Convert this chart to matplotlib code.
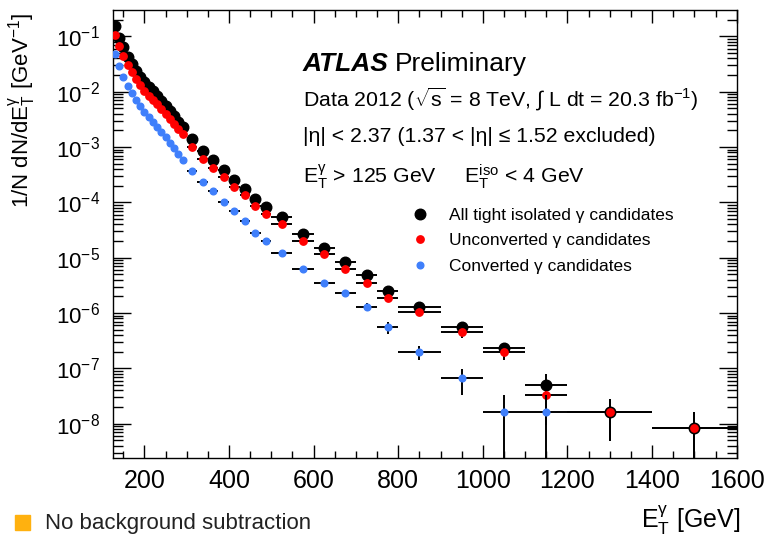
import numpy as np
import matplotlib
matplotlib.use("Agg")
import matplotlib.pyplot as plt
from matplotlib.lines import Line2D
from matplotlib.patches import Rectangle
from matplotlib.ticker import FixedLocator, LogFormatterMathtext, NullFormatter

plt.rcParams["font.family"] = ["Liberation Sans", "DejaVu Sans"]
plt.rcParams["mathtext.fontset"] = "custom"
plt.rcParams["mathtext.rm"] = "Liberation Sans"
plt.rcParams["mathtext.it"] = "Liberation Sans:italic"
plt.rcParams["mathtext.bf"] = "Liberation Sans:bold"

# --- data ---
et_centre = [130, 140, 150, 160, 170, 180, 190, 200, 210, 220, 230, 240, 250, 260, 270, 280, 290,
             312.5, 337.5, 362.5, 387.5, 412.5, 437.5, 462.5, 487.5,
             525, 575, 625, 675, 725, 775,
             850, 950, 1050, 1150,
             1300, 1500]
et_half = [5] * 17 + [12.5] * 8 + [25] * 6 + [50] * 4 + [100] * 2

all_tight = [1.51e-1, 9.55e-2, 6.31e-2, 4.27e-2, 3.16e-2, 2.40e-2, 1.86e-2, 1.51e-2, 1.23e-2,
             1.02e-2, 8.32e-3, 6.76e-3, 5.50e-3, 4.47e-3, 3.63e-3, 2.88e-3, 2.34e-3,
             1.38e-3, 8.51e-4, 5.75e-4, 3.80e-4, 2.51e-4, 1.78e-4, 1.17e-4, 8.13e-5,
             5.37e-5, 2.63e-5, 1.51e-5, 8.51e-6, 4.90e-6, 2.51e-6,
             1.29e-6, 5.50e-7, 2.29e-7, 5.0e-8,
             1.66e-8, 8.3e-9]
unconverted = [1.07e-1, 6.76e-2, 4.47e-2, 3.02e-2, 2.24e-2, 1.70e-2, 1.32e-2, 1.05e-2, 8.51e-3,
               7.08e-3, 5.89e-3, 4.79e-3, 3.89e-3, 3.16e-3, 2.57e-3, 2.09e-3, 1.70e-3,
               1.00e-3, 6.17e-4, 4.17e-4, 2.82e-4, 1.86e-4, 1.35e-4, 8.71e-5, 6.17e-5,
               4.07e-5, 2.04e-5, 1.15e-5, 6.17e-6, 3.55e-6, 1.86e-6,
               1.05e-6, 4.47e-7, 2.0e-7, 3.3e-8,
               1.66e-8, 8.3e-9]
converted = [4.79e-2, 2.88e-2, 1.86e-2, 1.26e-2, 9.33e-3, 7.08e-3, 5.50e-3, 4.37e-3, 3.47e-3,
             2.82e-3, 2.29e-3, 1.86e-3, 1.51e-3, 1.20e-3, 9.55e-4, 7.41e-4, 5.75e-4,
             3.72e-4, 2.34e-4, 1.58e-4, 1.00e-4, 6.92e-5, 4.57e-5, 2.75e-5, 2.00e-5,
             1.23e-5, 6.17e-6, 3.55e-6, 2.34e-6, 1.29e-6, 5.62e-7,
             2.0e-7, 6.6e-8, 1.66e-8, 1.66e-8,
             np.nan, np.nan]

n_total = 6.0e5  # approx. number of selected candidates (one event / 100 GeV ~ 1.66e-8)

x_major = [200, 400, 600, 800, 1000, 1200, 1400, 1600]
y_decades = [-8, -7, -6, -5, -4, -3, -2, -1]


def stat_err(vals):
    # Poisson errors sqrt(N) converted back into 1/N dN/dE units
    v = np.asarray(vals, dtype=float)
    w = 2 * np.asarray(et_half)
    err = np.sqrt(v / (n_total * w))
    lo = np.minimum(err, v * 0.9999)
    return [lo, err]


fig = plt.figure(figsize=(7.68, 5.37), dpi=100)
ax = fig.add_axes([112.7 / 768, 1 - 458 / 537, 624 / 768, 448 / 537])

series = [
    (all_tight, "black", 7.6, "All tight isolated γ candidates"),
    (unconverted, "#ff0000", 5.3, "Unconverted γ candidates"),
    (converted, "#3f7ffb", 4.8, "Converted γ candidates"),
]
handles = []
for z, (vals, col, ms, lab) in enumerate(series):
    ax.errorbar(et_centre, vals, xerr=et_half, yerr=stat_err(vals), fmt="o", color=col,
                ms=ms, mec=col, ecolor="black", elinewidth=1.4, capsize=0, zorder=2 + z)
    handles.append(Line2D([], [], ls="none", marker="o", color=col, ms=ms, label=lab))

ax.set_yscale("log")
ax.set_xlim(125, 1600)
ax.set_ylim(2.4e-9, 0.3)

ax.xaxis.set_major_locator(FixedLocator(x_major))
ax.xaxis.set_minor_locator(FixedLocator([x for x in range(150, 1600, 50) if x % 200]))
ax.yaxis.set_major_locator(FixedLocator([10.0 ** d for d in y_decades]))
ax.yaxis.set_minor_locator(FixedLocator(
    [m * 10.0 ** d for d in range(-9, 0) for m in range(2, 10) if 2.4e-9 < m * 10.0 ** d < 0.3]))
ax.yaxis.set_major_formatter(LogFormatterMathtext())
ax.yaxis.set_minor_formatter(NullFormatter())

ax.tick_params(which="both", direction="in", top=True, right=True, width=1.0)
ax.tick_params(axis="x", which="major", length=9.5, labelsize=18, pad=8)
ax.tick_params(axis="x", which="minor", length=5)
ax.tick_params(axis="y", which="major", length=13, labelsize=16, pad=9)
ax.tick_params(axis="y", which="minor", length=7)
for s in ax.spines.values():
    s.set_linewidth(1.0)

# axis titles
fig.text(22 / 768, 1 - 110 / 537, r"1/N dN/d$\mathrm{E}_{\mathrm{T}}^{\mathrm{γ}}$ [GeV$^{-1}$]",
         rotation=90, ha="center", va="center", fontsize=16)
fig.text(740 / 768, 1 - 520 / 537, r"$\mathrm{E}_{\mathrm{T}}^{\mathrm{γ}}$ [GeV]",
         ha="right", va="center", fontsize=18)

# labels
fig.text(303 / 768, 1 - 71 / 537, "ATLAS", fontsize=19, fontweight="bold",
         fontstyle="italic", ha="left", va="baseline")
fig.text(395 / 768, 1 - 71 / 537, "Preliminary", fontsize=19, ha="left", va="baseline")
fig.text(303 / 768, 1 - 107 / 537,
         r"Data 2012 ($\sqrt{\mathrm{s}}$ = 8 TeV, $\int$ L dt = 20.3 fb$^{-1}$)",
         fontsize=15.3, ha="left", va="baseline")
fig.text(303 / 768, 1 - 142 / 537, "|η| < 2.37 (1.37 < |η| ≤ 1.52 excluded)",
         fontsize=15.3, ha="left", va="baseline")
fig.text(303 / 768, 1 - 183 / 537,
         r"$\mathrm{E}_{\mathrm{T}}^{\mathrm{γ}}$ > 125 GeV     $\mathrm{E}_{\mathrm{T}}^{\mathrm{iso}}$ < 4 GeV",
         fontsize=15.3, ha="left", va="baseline")

ax.legend(handles=handles, loc="upper left", bbox_to_anchor=(411 / 768, 1 - 208 / 537),
          bbox_transform=fig.transFigure, frameon=False, fontsize=12.5, handlelength=1.0,
          handletextpad=1.2, labelspacing=0.58, borderpad=0, borderaxespad=0)

# bottom-left tag
fig.add_artist(Rectangle((15 / 768, 1 - 530 / 537), 15 / 768, 15 / 537,
                         transform=fig.transFigure, color="#ffb10f"))
fig.text(45 / 768, 1 - 523 / 537, "No background subtraction", fontsize=16,
         ha="left", va="center", color="#222222")

fig.savefig("out.png", dpi=100)
